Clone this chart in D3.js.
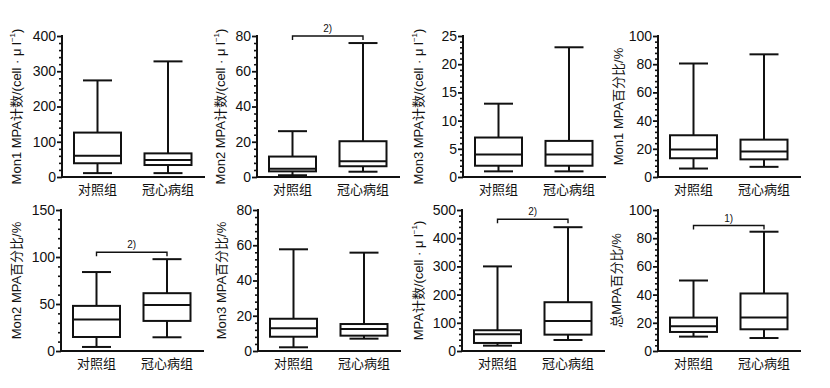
<!DOCTYPE html>
<html><head><meta charset="utf-8">
<script src="https://cdn.jsdelivr.net/npm/d3@7"></script>
<style>
html,body{margin:0;padding:0;background:#fff;}
svg{display:block;}
text{font-family:"Liberation Sans",Arial,"Noto Sans CJK SC",sans-serif;fill:#111;}
</style></head>
<body>
<svg id="chart" width="830" height="388"></svg>
<script>
// Categories
const categories = ["对照组", "冠心病组"];

// Panel titles (y-axis), in reading order
const titles = [
  ["Mon1 MPA计数/(cell · μ l", "−1", ")"],
  ["Mon2 MPA计数/(cell · μ l", "−1", ")"],
  ["Mon3 MPA计数/(cell · μ l", "−1", ")"],
  ["Mon1 MPA百分比/%", "", ""],
  ["Mon2 MPA百分比/%", "", ""],
  ["Mon3 MPA百分比/%", "", ""],
  ["MPA计数/(cell · μ l", "−1", ")"],
  ["总MPA百分比/%", "", ""]
];

// y-axis maximum and major tick step
const yMax = [400, 80, 25, 100, 150, 80, 500, 100];
const yStep = [100, 20, 5, 20, 50, 20, 100, 20];

// Box statistics per panel: [min, Q1, median, Q3, max] for 对照组 and 冠心病组
const controlStats = [
  [11, 39, 60, 126, 274],
  [1, 3.2, 4.7, 11.6, 26],
  [1, 2, 4, 7, 13],
  [6, 13.3, 19.5, 29.6, 80.5],
  [4.3, 14.9, 33.4, 48, 84],
  [2.1, 8.1, 12.9, 18.3, 57.7],
  [19, 28.5, 59.4, 73.6, 300],
  [10.2, 13.5, 17.5, 23.7, 50]
];
const chdStats = [
  [11, 34, 48, 67, 328],
  [3, 6.1, 8.9, 20.3, 76],
  [1, 2, 4, 6.4, 23],
  [7.2, 12.5, 18, 26.5, 87],
  [14.6, 32, 49, 61.5, 97.7],
  [7.0, 8.7, 12.5, 15.3, 55.8],
  [39, 58, 106, 173, 439],
  [9.2, 15.4, 23.7, 40.8, 84.6]
];

// Significance brackets: level (data units) and label; null = none
const bracketLevel = [null, 80, null, null, 105, null, 467, 89];
const bracketLabel = [null, "2)", null, null, "2)", null, "2)", "1)"];

// ---- layout ----
const axisX = [62, 257, 463, 658, 61, 258, 462, 658];
const titleX = [18, 222, 420, 620, 18, 223, 420, 618];
const rowTop = [36, 210];
const rowBottom = [177, 351];
const axisLen = 143;
const boxW = 47, capW = 29;
const ink = "#111";

const svg = d3.select("#chart");

for (let i = 0; i < 8; i++) {
  const row = i < 4 ? 0 : 1;
  const top = rowTop[row], bot = rowBottom[row];
  const ax = axisX[i];
  const g = svg.append("g");

  const y = d3.scaleLinear().domain([0, yMax[i]]).range([bot, top]);
  const x = d3.scalePoint().domain(categories).range([ax + 35.5, ax + 106]);

  const majors = d3.range(0, yMax[i] + 1e-9, yStep[i]);
  const minors = d3.range(0, yMax[i] + 1e-9, yStep[i] / 5).filter(v => !majors.some(m => Math.abs(m - v) < 1e-9));

  // minor ticks
  g.append("g").attr("transform", `translate(${ax},0)`)
    .call(d3.axisLeft(y).tickValues(minors).tickSize(3).tickFormat(""))
    .call(s => s.select(".domain").remove())
    .call(s => s.selectAll("line").attr("stroke", ink).attr("stroke-width", 1.6));

  // major ticks + labels
  const yAx = g.append("g").attr("transform", `translate(${ax},0)`)
    .call(d3.axisLeft(y).tickValues(majors).tickSize(5).tickPadding(1).tickFormat(d3.format("d")));
  yAx.select(".domain").remove();
  yAx.selectAll("line").attr("stroke", ink).attr("stroke-width", 1.8);
  yAx.selectAll("text").attr("font-size", 14).attr("fill", ink)
    .style("font-family", '"Liberation Sans",Arial,sans-serif');

  // axis lines
  g.append("line").attr("x1", ax).attr("x2", ax).attr("y1", top - 1).attr("y2", bot + 1)
    .attr("stroke", ink).attr("stroke-width", 2);
  g.append("line").attr("x1", ax - 1).attr("x2", ax + axisLen).attr("y1", bot).attr("y2", bot)
    .attr("stroke", ink).attr("stroke-width", 2);

  // category labels
  g.selectAll("text.cat").data(categories).join("text").attr("class", "cat")
    .attr("x", d => x(d)).attr("y", bot + 16.5)
    .attr("text-anchor", "middle").attr("font-size", 13).text(d => d)
    .style("font-family", '"Noto Sans CJK SC",sans-serif');

  // boxes
  const stats = [controlStats[i], chdStats[i]];
  stats.forEach((s, k) => {
    const cx = x(categories[k]);
    const bg = g.append("g").attr("stroke", ink).attr("stroke-width", 2).attr("fill", "none");
    // whiskers
    bg.append("line").attr("x1", cx).attr("x2", cx).attr("y1", y(s[4])).attr("y2", y(s[3]));
    bg.append("line").attr("x1", cx).attr("x2", cx).attr("y1", y(s[1])).attr("y2", y(s[0]));
    bg.append("line").attr("x1", cx - capW / 2).attr("x2", cx + capW / 2).attr("y1", y(s[4])).attr("y2", y(s[4]));
    bg.append("line").attr("x1", cx - capW / 2).attr("x2", cx + capW / 2).attr("y1", y(s[0])).attr("y2", y(s[0]));
    // box
    bg.append("rect").attr("x", cx - boxW / 2).attr("width", boxW)
      .attr("y", y(s[3])).attr("height", y(s[1]) - y(s[3])).attr("fill", "#fff");
    bg.append("line").attr("x1", cx - boxW / 2).attr("x2", cx + boxW / 2).attr("y1", y(s[2])).attr("y2", y(s[2]));
  });

  // bracket
  if (bracketLevel[i] !== null) {
    const by = y(bracketLevel[i]);
    const x1 = x(categories[0]), x2 = x(categories[1]);
    g.append("path").attr("d", `M${x1},${by + 4}V${by}H${x2}V${by + 4}`)
      .attr("fill", "none").attr("stroke", ink).attr("stroke-width", 1.4);
    g.append("text").attr("x", (x1 + x2) / 2).attr("y", by - 4)
      .attr("text-anchor", "middle").attr("font-size", 10).text(bracketLabel[i]);
  }

  // y title
  const t = titles[i];
  const cy = (top + bot) / 2;
  const tt = g.append("text").attr("transform", `translate(${titleX[i]},${cy}) rotate(-90)`)
    .attr("text-anchor", "middle").attr("dominant-baseline", "middle").attr("font-size", 13);
  tt.append("tspan").text(t[0]);
  if (t[1]) {
    tt.append("tspan").attr("font-size", 8).attr("dy", -5).text(t[1]);
    tt.append("tspan").attr("dy", 5).text(t[2]);
  }
}
</script>
</body></html>
